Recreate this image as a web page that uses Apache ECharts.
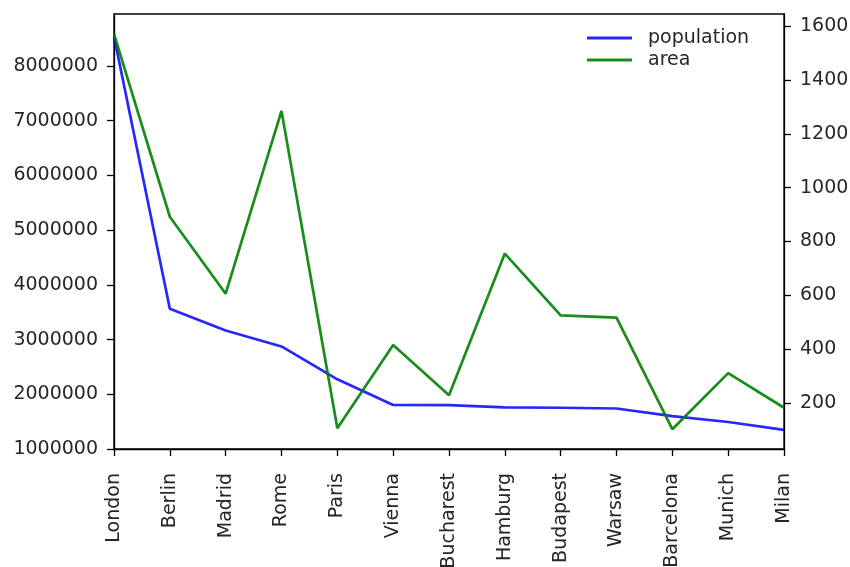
<!DOCTYPE html>
<html>
<head>
<meta charset="utf-8">
<script src="https://cdn.jsdelivr.net/npm/echarts@6/dist/echarts.min.js"></script>
<style>html,body{margin:0;padding:0;background:#fff}#c{width:850px;height:567px}</style>
</head>
<body>
<div id="c"></div>
<script>
const cities = ['London','Berlin','Madrid','Rome','Paris','Vienna','Bucharest','Hamburg','Budapest','Warsaw','Barcelona','Munich','Milan'];
const population = [8538689,3562166,3165235,2874038,2273305,1805681,1803425,1760433,1754000,1740119,1602386,1493900,1350680];
const area = [1572,891.85,605.77,1285,105.4,414.6,228,755,525.2,517,101.9,310.4,181.8];
const popTicks = [1000000,2000000,3000000,4000000,5000000,6000000,7000000,8000000];
const areaTicks = [200,400,600,800,1000,1200,1400,1600];

const FONT = 'DejaVu Sans';
const TXT = '#262626';
const chart = echarts.init(document.getElementById('c'), null, {renderer:'canvas'});
chart.setOption({
  animation:false,
  backgroundColor:'#fff',
  textStyle:{fontFamily:FONT},
  grid:{left:114,right:66,top:14,bottom:118,containLabel:false,outerBoundsMode:'none',show:true,borderColor:'#000',borderWidth:1.3,backgroundColor:'transparent'},
  legend:{
    data:['population','area'],
    orient:'vertical',
    left:582, top:22,
    itemWidth:45, itemHeight:3, itemGap:0,
    icon:'rect',
    textStyle:{fontFamily:FONT,fontSize:19,color:TXT,lineHeight:22,padding:[0,0,0,11]}
  },
  xAxis:{
    type:'category', data:cities, boundaryGap:false,
    axisLine:{lineStyle:{color:'#000',width:1.3}},
    axisTick:{show:true,length:7,lineStyle:{color:'#000',width:1.3},alignWithLabel:true},
    axisLabel:{rotate:90,margin:24,fontSize:19,color:TXT,fontFamily:FONT,interval:0},
    splitLine:{show:false}
  },
  yAxis:[{
    type:'value', min:1000000, max:8950000, position:'left',
    axisLine:{show:true,lineStyle:{color:'#000',width:1.3}},
    axisTick:{show:true,length:7,lineStyle:{color:'#000',width:1.3},customValues:popTicks},
    axisLabel:{margin:16,fontSize:19,color:TXT,fontFamily:FONT,customValues:popTicks,formatter:v=>String(v)},
    splitLine:{show:false}
  },{
    type:'value', min:28.4, max:1645.5, position:'right',
    axisLine:{show:true,lineStyle:{color:'#000',width:1.3}},
    axisTick:{show:true,length:7,lineStyle:{color:'#000',width:1.3},customValues:areaTicks},
    axisLabel:{margin:16,fontSize:19,color:TXT,fontFamily:FONT,customValues:areaTicks,formatter:v=>String(v)},
    splitLine:{show:false}
  }],
  series:[{
    name:'population', type:'line', data:population, yAxisIndex:0,
    showSymbol:false, symbol:'none',
    lineStyle:{color:'rgba(0,0,255,0.85)',width:2.7},
    itemStyle:{color:'rgba(0,0,255,0.85)'}
  },{
    name:'area', type:'line', data:area, yAxisIndex:1,
    showSymbol:false, symbol:'none',
    lineStyle:{color:'rgba(0,128,0,0.9)',width:2.7},
    itemStyle:{color:'rgba(0,128,0,0.9)'}
  }]
});
</script>
</body>
</html>
